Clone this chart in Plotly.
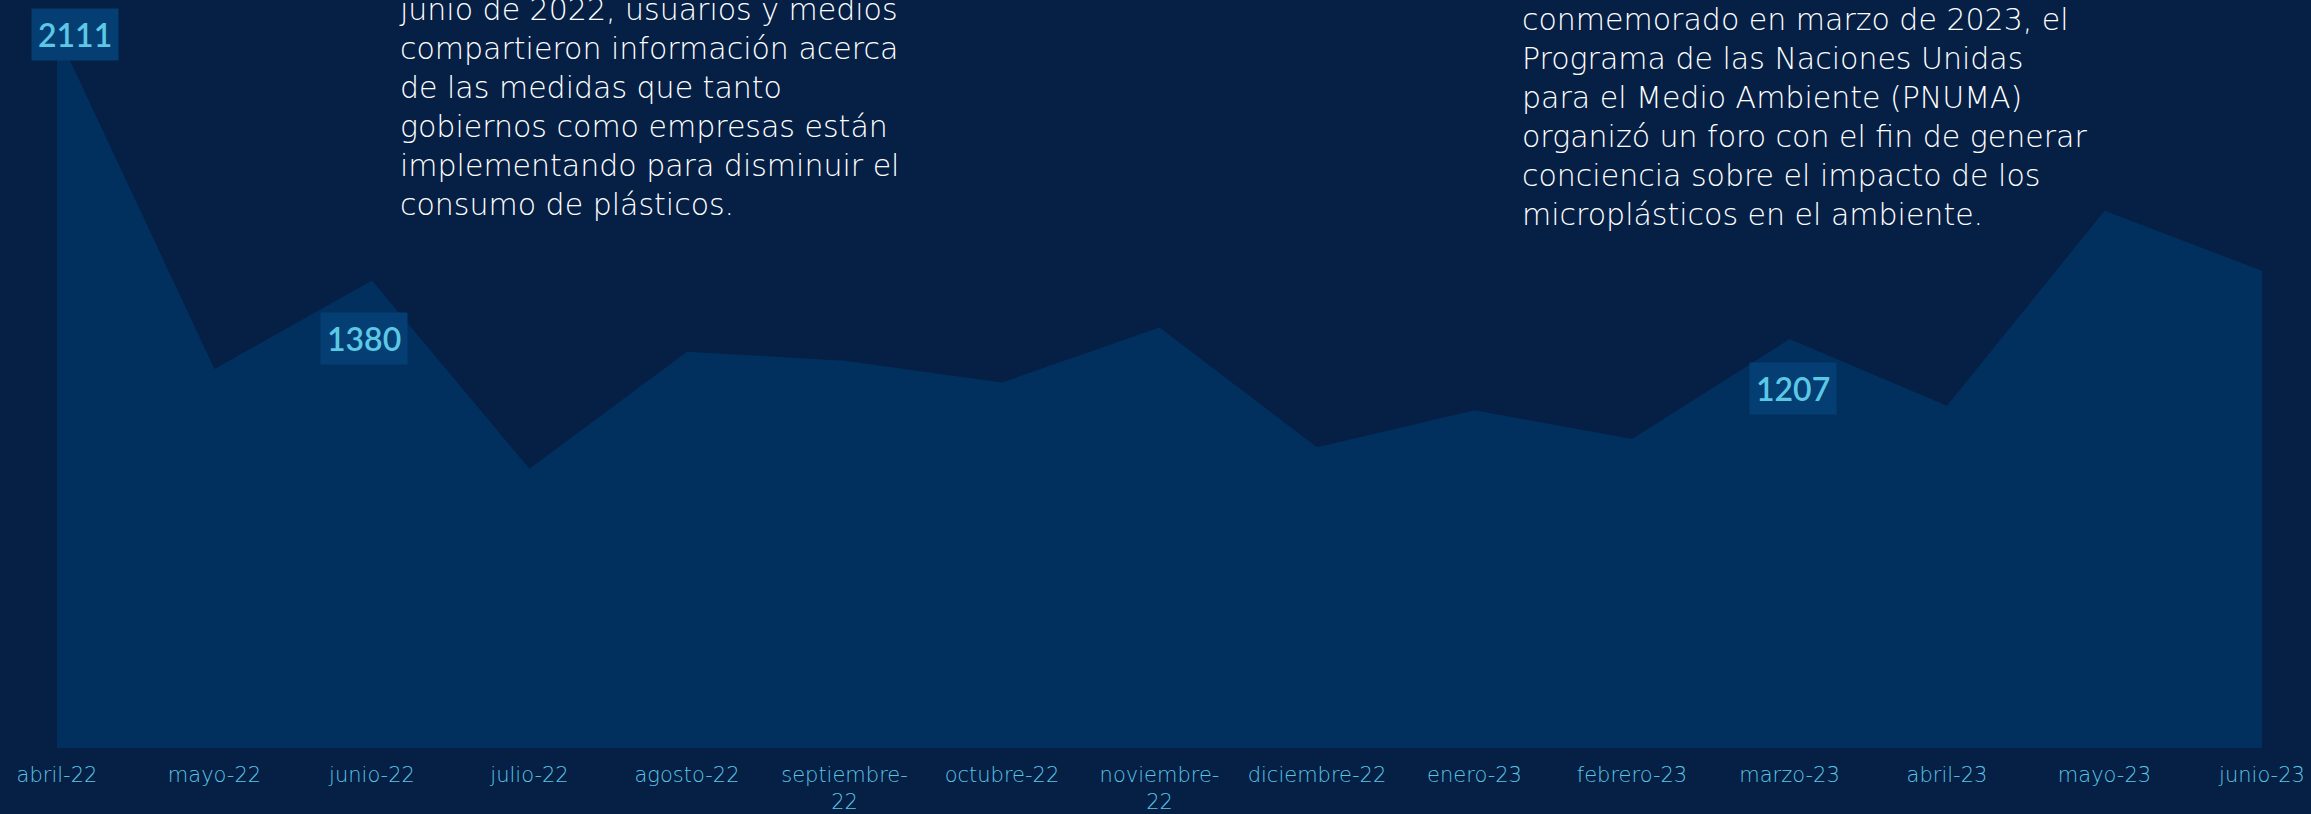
import plotly.graph_objects as go

# ---- data ----
months = ["abril-22", "mayo-22", "junio-22", "julio-22", "agosto-22", "septiembre-22",
          "octubre-22", "noviembre-22", "diciembre-22", "enero-23", "febrero-23",
          "marzo-23", "abril-23", "mayo-23", "junio-23"]
tick_labels = ["abril-22", "mayo-22", "junio-22", "julio-22", "agosto-22", "septiembre-<br>22",
               "octubre-22", "noviembre-<br>22", "diciembre-22", "enero-23", "febrero-23",
               "marzo-23", "abril-23", "mayo-23", "junio-23"]
values = [2111, 1119, 1380, 824, 1170, 1143, 1079, 1241, 888, 997, 912, 1207, 1010, 1586, 1409]
labeled_months = ["abril-22", "junio-22", "marzo-23"]

note_1 = ["junio de 2022, usuarios y medios",
          "compartieron información acerca",
          "de las medidas que tanto",
          "gobiernos como empresas están",
          "implementando para disminuir el",
          "consumo de plásticos."]
note_2 = ["conmemorado en marzo de 2023, el",
          "Programa de las Naciones Unidas",
          "para el Medio Ambiente (PNUMA)",
          "organizó un foro con el fin de generar",
          "conciencia sobre el impacto de los",
          "microplásticos en el ambiente."]

# ---- style ----
BG = "#061F45"
AREA = "#01305F"
LABEL_BG = "#053E72"
LABEL_FG = "#5CC8E6"
TICK_FG = "#5AC6E6"
TEXT_FG = "#FFFFFF"
W, H = 2311, 814
ML, MR, MT, MB = 57, 49, 0, 66
label_offsets = {"abril-22": (18, -2), "junio-22": (-8, -58), "marzo-23": (3, -49)}

fig = go.Figure()
fig.add_trace(go.Scatter(
    x=months, y=values, mode="lines", fill="tozeroy",
    fillcolor=AREA, line=dict(width=0, color=AREA), hoverinfo="x+y",
))

for m in labeled_months:
    i = months.index(m)
    dx, dy = label_offsets[m]
    fig.add_annotation(
        x=m, y=values[i], xref="x", yref="y", text=str(values[i]), showarrow=False,
        xshift=dx, yshift=dy, bgcolor=LABEL_BG, borderpad=6,
        font=dict(family="Lato, Open Sans, sans-serif", size=32, color=LABEL_FG, weight=600),
    )

plot_w = W - ML - MR
plot_h = H - MT - MB

def px_to_paper(px, py):
    return (px - ML) / plot_w, 1 - (py - MT) / plot_h

for lines, (px, py) in ((note_1, (397, 107)), (note_2, (1520, 117))):
    xp, yp = px_to_paper(px, py)
    fig.add_annotation(
        x=xp, y=yp, xref="paper", yref="paper", xanchor="left", yanchor="middle",
        align="left", showarrow=False, text="<br>".join(lines),
        font=dict(family="DejaVu Sans, sans-serif", size=30, color=TEXT_FG, weight=200),
    )

fig.update_layout(
    width=W, height=H,
    margin=dict(l=ML, r=MR, t=MT, b=MB, pad=0, autoexpand=False),
    paper_bgcolor=BG, plot_bgcolor=BG,
    showlegend=False,
    xaxis=dict(
        type="category", range=[0, len(months) - 1],
        tickmode="array", tickvals=months, ticktext=tick_labels,
        showgrid=False, zeroline=False, showline=False, ticks="",
        ticklabelstandoff=12, automargin=False,
        tickfont=dict(family="DejaVu Sans, sans-serif", size=21, color=TICK_FG, weight=200),
        tickangle=0,
    ),
    yaxis=dict(range=[0, 2208], visible=False, showgrid=False, zeroline=False, automargin=False),
)

fig.write_html(
    "out.html",
    config={"displayModeBar": False},
    post_script="document.body.style.margin='0';document.body.style.overflow='hidden';",
)
